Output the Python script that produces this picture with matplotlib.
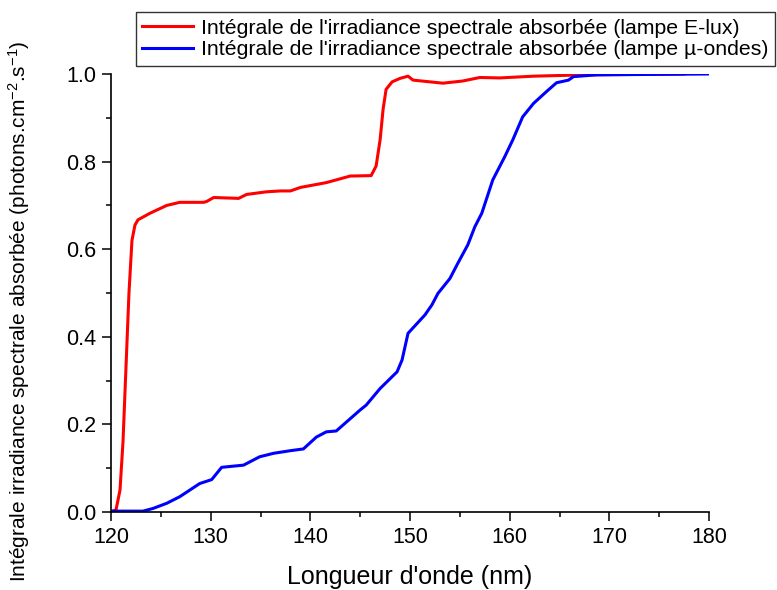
import matplotlib

matplotlib.use("Agg")
import matplotlib.pyplot as plt
from matplotlib.ticker import MultipleLocator

plt.rcParams["font.family"] = ["Liberation Sans", "DejaVu Sans"]
plt.rcParams["mathtext.fontset"] = "custom"
plt.rcParams["mathtext.rm"] = "Liberation Sans"
plt.rcParams["mathtext.it"] = "Liberation Sans:italic"

# ---- E-lux lamp: integrated absorbed spectral irradiance -------------------
elux_nm = [120.0, 120.5, 120.9, 121.2, 121.5, 121.8, 122.1, 122.4, 122.7, 123.9,
           125.6, 126.9, 129.3, 129.6, 130.3, 132.8, 133.6, 135.6, 137.0, 138.0,
           139.0, 141.6, 144.0, 146.1, 146.6, 147.0, 147.3, 147.6, 148.2, 149.0,
           149.8, 150.3, 153.3, 155.3, 157.0, 159.0, 162.4, 167.4, 177.5]
elux_val = [0.000, 0.005, 0.050, 0.160, 0.330, 0.500, 0.620, 0.655, 0.667, 0.682,
            0.700, 0.707, 0.707, 0.709, 0.718, 0.716, 0.725, 0.731, 0.733, 0.733,
            0.741, 0.752, 0.767, 0.768, 0.790, 0.850, 0.920, 0.965, 0.982, 0.990,
            0.995, 0.986, 0.979, 0.984, 0.992, 0.991, 0.995, 0.998, 1.000]

# ---- micro-wave lamp -------------------------------------------------------
uonde_nm = [120.2, 123.2, 124.2, 125.6, 126.9, 128.9, 130.1, 130.6, 131.1, 133.3,
            134.9, 136.3, 138.0, 139.3, 140.6, 141.6, 142.6, 145.0, 145.6, 147.0,
            148.7, 149.2, 149.8, 151.5, 152.2, 152.8, 154.0, 154.8, 155.8, 156.5,
            157.2, 158.3, 159.5, 160.3, 161.3, 162.4, 163.7, 164.7, 165.9, 166.4,
            168.7, 174.1, 179.9]
uonde_val = [0.002, 0.002, 0.008, 0.020, 0.035, 0.065, 0.074, 0.088, 0.102, 0.107,
             0.126, 0.134, 0.140, 0.144, 0.171, 0.183, 0.185, 0.233, 0.244, 0.282,
             0.320, 0.347, 0.408, 0.450, 0.473, 0.499, 0.533, 0.568, 0.610, 0.651,
             0.682, 0.758, 0.811, 0.849, 0.902, 0.933, 0.960, 0.980, 0.986, 0.994,
             0.998, 0.999, 1.000]


def main():
    fig = plt.figure(figsize=(7.77, 5.90), dpi=100)
    ax = fig.add_axes([0.1429, 0.1322, 0.7696, 0.7424])

    ax.plot(elux_nm, elux_val, color="#ff0000", lw=2.2,
            label="Intégrale de l'irradiance spectrale absorbée (lampe E-lux)")
    ax.plot(uonde_nm, uonde_val, color="#0000ff", lw=2.2,
            label="Intégrale de l'irradiance spectrale absorbée (lampe µ-ondes)")

    ax.set_xlim(120, 180)
    ax.set_ylim(0, 1.0)
    ax.xaxis.set_major_locator(MultipleLocator(10))
    ax.xaxis.set_minor_locator(MultipleLocator(5))
    ax.yaxis.set_major_locator(MultipleLocator(0.2))
    ax.yaxis.set_minor_locator(MultipleLocator(0.1))
    ax.yaxis.set_major_formatter(plt.FormatStrFormatter("%.1f"))
    for side in ("top", "right"):
        ax.spines[side].set_visible(False)
    for side in ("left", "bottom"):
        ax.spines[side].set_linewidth(1.2)
    ax.tick_params(which="major", direction="out", length=6.5, width=1.1,
                   labelsize=15.5, pad=4)
    ax.tick_params(which="minor", direction="out", length=3.5, width=1.1)

    ax.set_xlabel("Longueur d'onde (nm)", fontsize=18)
    ax.xaxis.set_label_coords(0.5, -0.122)
    ax.set_ylabel("Intégrale irradiance spectrale absorbée "
                  r"(photons.cm$^{-2}$.s$^{-1}$)", fontsize=15)
    ax.yaxis.set_label_coords(-0.132, 0.459)

    leg = fig.legend(loc="upper left", bbox_to_anchor=(0.175, 0.979),
                     fontsize=15.3, fancybox=False, edgecolor="black",
                     handlelength=2.4, borderpad=0.3, labelspacing=0.12,
                     handletextpad=0.35, borderaxespad=0)
    leg.get_frame().set_linewidth(1.0)

    fig.savefig("out.png", dpi=100)


if __name__ == "__main__":
    main()
